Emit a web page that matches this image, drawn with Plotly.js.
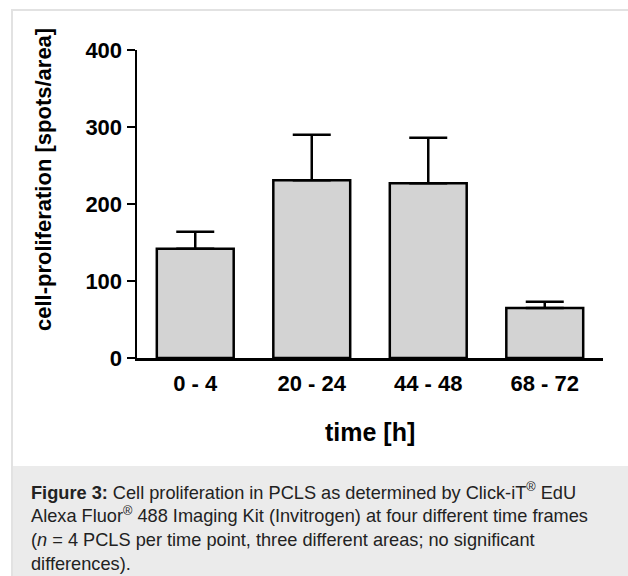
<!DOCTYPE html>
<html>
<head>
<meta charset="utf-8">
<script src="https://cdn.plot.ly/plotly-3.0.1.min.js"></script>
<style>
  html, body { margin: 0; padding: 0; background: #ffffff; }
  #wrap { position: relative; width: 628px; height: 576px; overflow: hidden; }
  #frame { position: absolute; left: 11px; top: 9px; width: 640px; height: 600px;
           border-top: 2px solid #e2e2e2; border-left: 2px solid #e2e2e2; box-sizing: border-box; }
  #capbg { position: absolute; left: 13px; top: 466px; width: 620px; height: 120px; background: #ebebeb; }
  #chart { position: absolute; left: 0; top: 0; width: 628px; height: 576px; }
</style>
</head>
<body>
<div id="wrap">
  <div id="frame"></div>
  <div id="capbg"></div>
  <div id="chart"></div>
</div>
<script>
// Data
const categories = ["0 - 4", "20 - 24", "44 - 48", "68 - 72"];
const meanValues = [142, 231, 227, 65];
const semValues = [22, 59, 59, 8];
const yTickValues = [0, 100, 200, 300, 400];

const fontFamily = "Arial, 'Liberation Sans', Helvetica, sans-serif";

const trace = {
  type: "bar",
  x: categories,
  y: meanValues,
  width: 0.66,
  marker: { color: "#d3d3d3", line: { color: "#000000", width: 2.5 } },
  error_y: { type: "data", array: semValues, symmetric: false, arrayminus: [0,0,0,0],
             visible: true, color: "#000000", thickness: 2.5, width: 19 },
  hoverinfo: "skip"
};

const W = 628, H = 576;
const L = 137, R = 25, T = 50, B = 218;
const pw = W - L - R, ph = H - T - B;
const px2x = p => (p - L) / pw;
const py2y = p => (H - B - p) / ph;

const layout = {
  width: W, height: H,
  margin: { l: L, r: R, t: T, b: B, pad: 0 },
  paper_bgcolor: "rgba(0,0,0,0)",
  plot_bgcolor: "rgba(0,0,0,0)",
  showlegend: false,
  font: { family: fontFamily, color: "#000000" },
  xaxis: {
    type: "category",
    range: [-0.5, 3.5],
    showline: true, linecolor: "#000000", linewidth: 2.5,
    ticks: "", showgrid: false, zeroline: false,
    tickfont: { family: fontFamily, size: 22, weight: "bold", color: "#000000" },
    ticklabelstandoff: 4,
    fixedrange: true
  },
  yaxis: {
    range: [0, 400],
    tickvals: yTickValues,
    ticktext: yTickValues.map(String),
    showline: true, linecolor: "#000000", linewidth: 2.5,
    ticks: "outside", ticklen: 8, tickwidth: 2.5, tickcolor: "#000000",
    showgrid: false, zeroline: false,
    tickfont: { family: fontFamily, size: 22, weight: "bold", color: "#000000" },
    fixedrange: true
  },
  annotations: [
    {
      text: "cell-proliferation [spots/area]",
      xref: "paper", yref: "paper",
      x: px2x(43), y: py2y(180),
      xanchor: "center", yanchor: "middle",
      textangle: -90, showarrow: false,
      font: { family: fontFamily, size: 22, weight: "bold", color: "#000000" }
    },
    {
      text: "time [h]",
      xref: "paper", yref: "paper",
      x: px2x(370), y: py2y(432),
      xanchor: "center", yanchor: "middle",
      showarrow: false,
      font: { family: fontFamily, size: 25, weight: "bold", color: "#000000" }
    },
    {
      text: "<b>Figure 3:</b> Cell proliferation in PCLS as determined by Click-iT<sup>®</sup> EdU<br>" +
            "Alexa Fluor<sup>®</sup> 488 Imaging Kit (Invitrogen) at four different time frames<br>" +
            "(<i>n</i> = 4 PCLS per time point, three different areas; no significant<br>" +
            "differences).",
      xref: "paper", yref: "paper",
      x: px2x(29), y: py2y(477),
      xanchor: "left", yanchor: "top", align: "left",
      showarrow: false,
      font: { family: fontFamily, size: 18.2, color: "#222222" }
    }
  ]
};

Plotly.newPlot("chart", [trace], layout, { displayModeBar: false, staticPlot: true });
</script>
</body>
</html>
